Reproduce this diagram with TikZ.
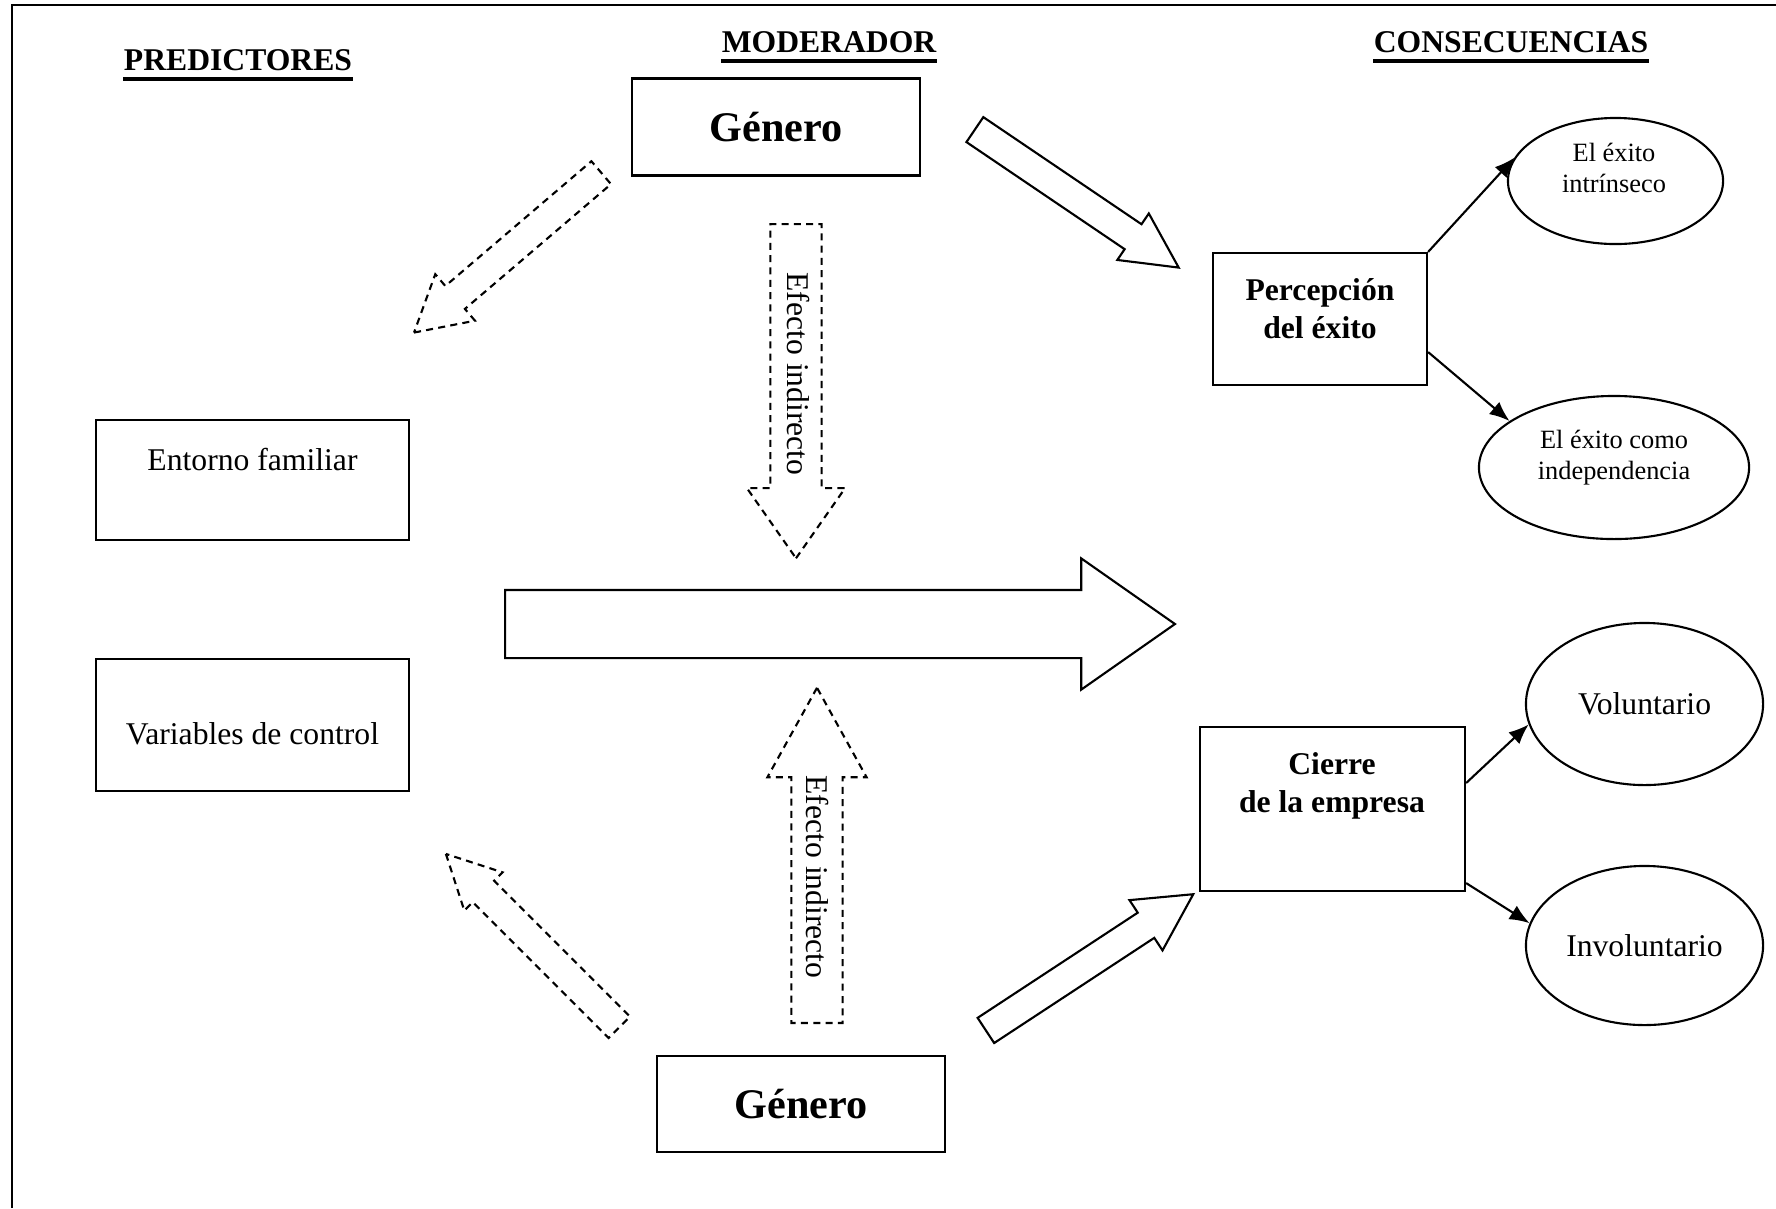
\documentclass[tikz,border=0pt]{standalone}
\usepackage{fontspec}
\setmainfont{Liberation Serif}
\usetikzlibrary{shapes.geometric,shapes.arrows,arrows.meta}

\newcommand{\fsnormal}{\fontsize{9}{10.8}\selectfont}
\newcommand{\fssmall}{\fontsize{7.5}{8.8}\selectfont}
\newcommand{\fsbig}{\fontsize{12}{14}\selectfont}

\begin{document}
\begin{tikzpicture}[x=0.01cm,y=-0.01cm,
  box/.style={draw,line width=0.6pt,inner sep=0pt},
  oval/.style={draw,ellipse,line width=0.6pt,inner sep=0pt},
  heading/.style={font=\fsnormal\bfseries,anchor=base,inner sep=0pt},
  rule/.style={line width=1.1pt},
  blockarrow/.style={draw,single arrow,line width=0.6pt,inner xsep=0pt,anchor=tail,single arrow head indent=0pt},
  dashedarrow/.style={blockarrow,dash pattern=on 2pt off 1.5pt},
  link/.style={-{Latex[length=0.2cm,width=0.16cm]},line width=0.6pt}]%
  \useasboundingbox (0,0) rectangle (1776,1208);
  \draw[line width=0.8pt] (12,1208) -- (12,5) -- (1776,5);

  % column titles
  \node[heading] (predhead) at (238,70) {PREDICTORES};
  \node[heading] (modhead) at (829,52) {MODERADOR};
  \node[heading] (conhead) at (1511,52) {CONSECUENCIAS};
  \draw[rule] ([yshift=-2.6pt]predhead.base west) -- ([yshift=-2.6pt]predhead.base east);
  \draw[rule] ([yshift=-2.6pt]modhead.base west) -- ([yshift=-2.6pt]modhead.base east);
  \draw[rule] ([yshift=-2.6pt]conhead.base west) -- ([yshift=-2.6pt]conhead.base east);

  % moderador
  \node[box,minimum width=2.88cm,minimum height=0.97cm,font=\fsbig\bfseries] (gentop) at (776,127) {Género};
  \node[box,minimum width=2.88cm,minimum height=0.96cm,font=\fsbig\bfseries] (genbot) at (801,1104) {Género};

  % predictores
  \node[box,minimum width=3.13cm,minimum height=1.20cm] (entorno) at (252.5,480) {};
  \node[font=\fsnormal] (entornotxt) at (252.5,459) {Entorno familiar};
  \node[box,minimum width=3.13cm,minimum height=1.32cm] (variables) at (252.5,725) {};
  \node[font=\fsnormal] (variablestxt) at (252.5,734) {Variables de control};

  % consecuencias
  \node[box,minimum width=2.14cm,minimum height=1.32cm] (percep) at (1320,319) {};
  \node[font=\fsnormal\bfseries,align=center] (perceptxt) at (1320,309) {Percepción\\del éxito};
  \node[box,minimum width=2.65cm,minimum height=1.64cm] (cierre) at (1332.5,809) {};
  \node[font=\fsnormal\bfseries,align=center] (cierretxt) at (1332,786) {Cierre\\de la empresa};

  \node[oval,minimum width=2.15cm,minimum height=1.26cm] (intrinseco) at (1615.5,181) {};
  \node[font=\fssmall,align=center] (intrinsecotxt) at (1614,168) {El éxito\\intrínseco};
  \node[oval,minimum width=2.70cm,minimum height=1.43cm] (independ) at (1614,467.5) {};
  \node[font=\fssmall,align=center] (independtxt) at (1614,458) {El éxito como\\independencia};
  \node[oval,minimum width=2.37cm,minimum height=1.62cm,font=\fsnormal] (volunt) at (1644.5,704) {Voluntario};
  \node[oval,minimum width=2.37cm,minimum height=1.59cm,font=\fsnormal] (involunt) at (1644.5,945.5) {Involuntario};

  \draw[link] (percep.north east) -- (intrinseco.167);
  \draw[link] (percep.-17) -- (independ.156);
  \draw[link] (cierre.11) -- (volunt.190);
  \draw[link] (cierre.-29) -- (involunt.169);

  % block arrows
  \node[blockarrow,minimum height=6.695cm,inner ysep=0.33cm,single arrow head extend=0.315cm,single arrow tip angle=70] (mainarrow) at (504,624) {};
  \node[blockarrow,rotate=-34.1,minimum height=2.46cm,inner ysep=0.14cm,single arrow head extend=0.13cm,single arrow tip angle=54] (gentoparrow) at (974,129) {};
  \node[blockarrow,rotate=33.3,minimum height=2.48cm,inner ysep=0.14cm,single arrow head extend=0.15cm,single arrow tip angle=56] (genbotarrow) at (985,1031) {};
  \node[dashedarrow,rotate=220.5,minimum height=2.46cm,inner ysep=0.14cm,single arrow head extend=0.155cm,single arrow tip angle=59] (predtoparrow) at (602,172) {};
  \node[dashedarrow,rotate=135,minimum height=2.45cm,inner ysep=0.14cm,single arrow head extend=0.12cm,single arrow tip angle=54] (predbotarrow) at (620,1028) {};
  \node[dashedarrow,rotate=-90,minimum height=3.34cm,inner ysep=0.245cm,single arrow head extend=0.235cm,single arrow tip angle=70] (indtoparrow) at (796,223) {};
  \node[dashedarrow,rotate=90,minimum height=3.35cm,inner ysep=0.245cm,single arrow head extend=0.24cm,single arrow tip angle=58] (indbotarrow) at (817,1024) {};
  \node[font=\fsnormal,rotate=-90] (indtoptxt) at (798,374) {Efecto indirecto};
  \node[font=\fsnormal,rotate=-90] (indbottxt) at (817,877) {Efecto indirecto};
\end{tikzpicture}
\end{document}
